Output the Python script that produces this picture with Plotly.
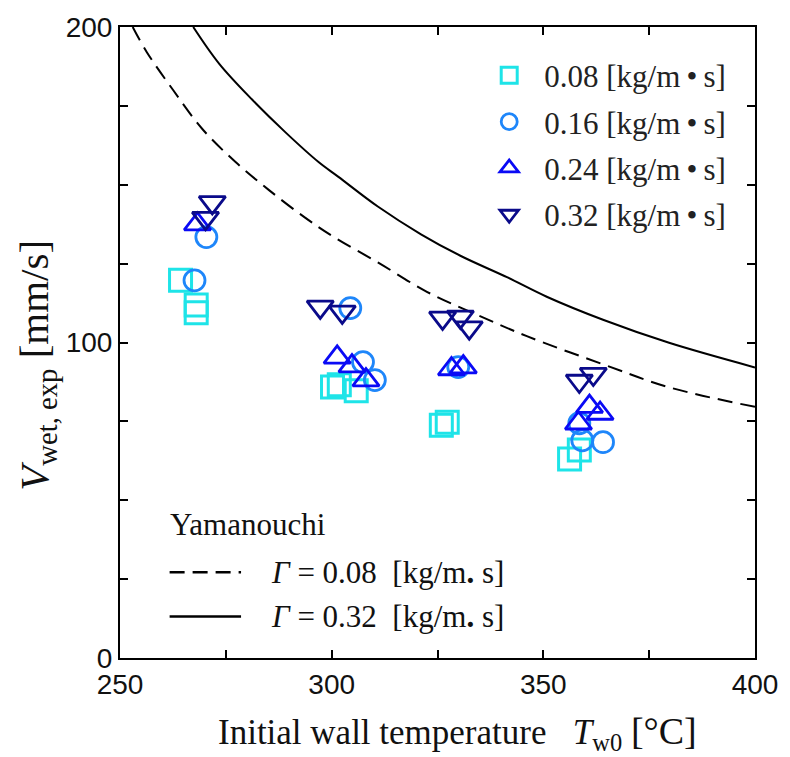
import plotly.graph_objects as go

# ---- data ----
sq_T = [264.3, 268.0, 268.0, 300.2, 301.8, 305.8, 325.9, 327.3, 356.2, 358.5]
sq_V = [119.7, 111.9, 109.4, 85.9, 86.6, 84.7, 73.8, 74.7, 63.1, 65.9]

ci_T = [267.6, 270.4, 304.4, 307.4, 310.2, 329.9, 358.5, 359.2, 364.1]
ci_V = [119.7, 133.4, 110.9, 93.8, 88.1, 92.2, 74.4, 69.0, 68.4]

tu_T = [268.3, 301.3, 304.8, 308.1, 328.3, 331.1, 358.3, 360.9, 363.4]
tu_V = [137.5, 95.3, 92.5, 88.1, 91.6, 92.2, 74.4, 79.7, 77.5]

td_T = [270.2, 271.8, 297.3, 302.5, 326.2, 330.4, 332.5, 358.5, 361.8]
td_V = [139.4, 144.4, 111.3, 109.7, 107.8, 108.1, 104.7, 87.8, 90.0]

yam008_T = [253.0, 256.3, 262.5, 269.5, 277.3, 285.2, 293.8, 300.8, 310.9, 322.6, 334.4, 346.1, 364.1, 379.7, 400.0]
yam008_V = [200.0, 192.1, 180.1, 167.6, 157.2, 148.3, 139.5, 133.2, 125.4, 116.0, 108.75, 102.0, 93.1, 85.8, 79.6]

yam032_T = [267.3, 273.4, 281.2, 289.1, 296.9, 301.6, 310.9, 321.1, 330.4, 341.4, 350.8, 364.1, 379.7, 400.0]
yam032_V = [200.0, 188.4, 177.0, 166.6, 157.2, 152.5, 143.1, 134.3, 127.5, 120.7, 114.5, 107.2, 99.9, 92.1]

series_names = ["0.08 [kg/m\u2009•\u2009s]", "0.16 [kg/m\u2009•\u2009s]", "0.24 [kg/m\u2009•\u2009s]", "0.32 [kg/m\u2009•\u2009s]"]
line_names = ["<i>Γ</i> = 0.08  [kg/m<b>.</b> s]", "<i>Γ</i> = 0.32  [kg/m<b>.</b> s]"]
legend2_title = "Yamanouchi"
x_title = "Initial wall temperature &nbsp;&nbsp;<i>T</i><sub>w0</sub> <span style='font-size:38px'>[°C]</span>"
y_title = "<i>V</i><sub>wet, exp</sub> [mm/s]"

x_ticks = [250, 300, 350, 400]
y_ticks = [0, 100, 200]

SERIF = "Liberation Serif, Times New Roman, Times, serif"
SANS = "Liberation Sans, Arial, sans-serif"

fig = go.Figure()

# Yamanouchi curves
fig.add_trace(go.Scatter(x=yam008_T, y=yam008_V, mode="lines",
                         line=dict(color="black", width=2, dash="15px,8px", shape="spline", smoothing=1.0),
                         showlegend=False, hoverinfo="skip"))
fig.add_trace(go.Scatter(x=yam032_T, y=yam032_V, mode="lines",
                         line=dict(color="black", width=2, shape="spline", smoothing=1.0),
                         showlegend=False, hoverinfo="skip"))

marker_specs = [
    (sq_T, sq_V, "square-open", "#1EE4E8", 22, 3),
    (ci_T, ci_V, "circle-open", "#1E86FA", 21, 2.8),
    (tu_T, tu_V, "triangle-up-open", "#0A0AF5", 23, 2.8),
    (td_T, td_V, "triangle-down-open", "#0A0A8A", 23, 2.8),
]
for i, (xs, ys, sym, col, sz, lw) in enumerate(marker_specs):
    fig.add_trace(go.Scatter(
        x=xs, y=ys, mode="markers", name=series_names[i], legendgroup=f"g{i}",
        marker=dict(symbol=sym, size=sz, color=col, line=dict(color=col, width=lw)),
    ))


def px2paper_x(px):
    return (px - 120) / 640.0


def px2paper_y(py):
    return (658 - py) / 640.0


# Manual second legend (Yamanouchi)
fig.add_annotation(x=px2paper_x(168), y=px2paper_y(523), xref="paper", yref="paper", text=legend2_title,
                   showarrow=False, xanchor="left", yanchor="middle",
                   font=dict(family=SERIF, size=31, color="#111"))
for j, (py, dash) in enumerate([(571, "15px,8px"), (616, "solid")]):
    fig.add_shape(type="line", xref="paper", yref="paper", x0=px2paper_x(170), x1=px2paper_x(242),
                  y0=px2paper_y(py), y1=px2paper_y(py), line=dict(color="black", width=2.5, dash=dash))
    fig.add_annotation(x=px2paper_x(270), y=px2paper_y(py), xref="paper", yref="paper", text=line_names[j],
                       showarrow=False, xanchor="left", yanchor="middle",
                       font=dict(family=SERIF, size=31, color="#111"))

# Axis titles as annotations (positioned like the reference)
fig.add_annotation(x=px2paper_x(460), y=px2paper_y(734), xref="paper", yref="paper", text=x_title,
                   showarrow=False, xanchor="center", yanchor="middle",
                   font=dict(family=SERIF, size=35, color="#111"))
fig.add_annotation(x=px2paper_x(37), y=px2paper_y(361), xref="paper", yref="paper", text=y_title,
                   showarrow=False, xanchor="center", yanchor="middle", textangle=-90,
                   font=dict(family=SERIF, size=41, color="#111"))

axis_common = dict(
    showline=True, linecolor="black", linewidth=2, mirror="ticks",
    ticks="inside", ticklen=8, tickwidth=1.5, tickcolor="black",
    showgrid=False, zeroline=False,
    tickfont=dict(family=SANS, size=28, color="#111"),
)

fig.update_xaxes(range=[250, 400], tickvals=x_ticks,
                 minor=dict(ticks="inside", dtick=25, tick0=250, ticklen=8, tickwidth=1.5, tickcolor="black"),
                 **axis_common)
fig.update_yaxes(range=[0, 200], tickvals=y_ticks,
                 minor=dict(ticks="inside", dtick=25, tick0=0, ticklen=8, tickwidth=1.5, tickcolor="black"),
                 **axis_common)

fig.update_layout(
    width=790, height=757,
    margin=dict(l=120, r=30, t=18, b=99),
    paper_bgcolor="white", plot_bgcolor="white",
    showlegend=True,
    legend=dict(x=px2paper_x(477), y=px2paper_y(40), xanchor="left", yanchor="top",
                font=dict(family=SERIF, size=31, color="#222"), bgcolor="rgba(0,0,0,0)",
                tracegroupgap=3, itemwidth=60, itemsizing="trace"),
)

fig.write_html("out.html")
